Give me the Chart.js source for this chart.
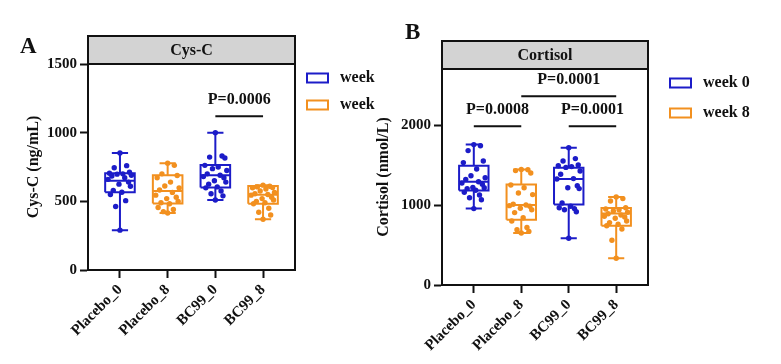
<!DOCTYPE html>
<html>
<head>
<meta charset="utf-8">
<script src="https://cdn.jsdelivr.net/npm/chart.js@4.4.1/dist/chart.umd.min.js"></script>
<style>
  html, body { margin: 0; padding: 0; background: #fff; }
  #wrap { position: relative; width: 781px; height: 364px; overflow: hidden; }
  .panel { position: absolute; top: 0; height: 364px; }
  #panelA { left: 0; width: 390px; }
  #panelB { left: 365px; width: 416px; }
</style>
</head>
<body>
<div id="wrap">
  <div class="panel" id="panelA"><canvas id="chartA"></canvas></div>
  <div class="panel" id="panelB"><canvas id="chartB"></canvas></div>
</div>
<script>
/* ---------- Data ---------- */
const groups = ["Placebo_0", "Placebo_8", "BC99_0", "BC99_8"];
const legendLabelsA = ["week", "week"];
const legendLabelsB = ["week 0", "week 8"];

// Cys-C (ng/mL) box stats per group
const cysMin    = [290, 415, 510, 370];
const cysQ1     = [566, 485, 600, 483];
const cysMedian = [650, 575, 690, 548];
const cysQ3     = [705, 690, 765, 612];
const cysMax    = [852, 778, 1000, 618];
const cysTicks  = [0, 500, 1000, 1500];

const cysPlacebo0 = [852, 760, 745, 712, 705, 700, 698, 690, 685, 672, 660, 640, 625, 610, 580, 566, 550, 505, 462, 290];
const cysPlacebo8 = [778, 762, 700, 688, 672, 640, 612, 598, 582, 565, 545, 530, 520, 500, 490, 482, 455, 440, 425, 415];
const cysBC990    = [1000, 830, 822, 815, 762, 750, 738, 725, 700, 690, 680, 672, 650, 640, 625, 605, 598, 575, 555, 540, 510];
const cysBC998    = [618, 610, 605, 600, 598, 590, 575, 565, 555, 550, 545, 530, 520, 510, 500, 490, 482, 450, 420, 400, 370];

const cysSigFrom  = [2];
const cysSigTo    = [3];
const cysSigY     = [1120];
const cysSigLabel = ["P=0.0006"];

// Cortisol (nmol/L) box stats per group
const cortMin    = [955, 650, 585, 335];
const cortQ1     = [1180, 815, 1005, 740];
const cortMedian = [1290, 1000, 1325, 895];
const cortQ3     = [1490, 1255, 1465, 962];
const cortMax    = [1755, 1445, 1715, 1100];
const cortTicks  = [0, 1000, 2000];

const cortPlacebo0 = [1755, 1740, 1680, 1550, 1530, 1450, 1365, 1340, 1320, 1290, 1275, 1260, 1220, 1215, 1205, 1185, 1160, 1125, 1090, 1065, 955];
const cortPlacebo8 = [1445, 1440, 1430, 1400, 1250, 1215, 1150, 1130, 1010, 1000, 992, 985, 960, 940, 905, 840, 800, 720, 690, 670, 650];
const cortBC990    = [1715, 1580, 1550, 1500, 1490, 1480, 1470, 1425, 1385, 1330, 1325, 1240, 1215, 1205, 1025, 985, 965, 955, 940, 915, 585];
const cortBC998    = [1100, 1080, 1050, 965, 950, 940, 925, 910, 890, 875, 860, 850, 835, 800, 780, 760, 740, 700, 560, 335];

const cortSigFrom  = [0, 2, 1];
const cortSigTo    = [1, 3, 3];
const cortSigY     = [1985, 1985, 2360];
const cortSigLabel = ["P=0.0008", "P=0.0001", "P=0.0001"];

// horizontal spread of the dots inside each group (category units)
const jitter = [0, 0.14, -0.12, 0.2, -0.22, 0.06, -0.06, 0.24, -0.17, 0.1, -0.25, 0.18, -0.02, 0.22, -0.14, 0.04, -0.2, 0.12, -0.09, 0.16, 0.03];

/* ---------- Styles ---------- */
const BLUE = "#1c1cc8";
const ORANGE = "#f2901f";
const groupColors = [BLUE, ORANGE, BLUE, ORANGE];
const INK = "#111";
const SERIF = '"Liberation Serif", "Times New Roman", serif';
const BOX_HALF = 0.31;
const CAP_HALF = 0.17;

Chart.defaults.font.family = SERIF;
Chart.defaults.font.weight = "bold";
Chart.defaults.color = INK;

/* ---------- Builders ---------- */
function boxPath(i, mn, q1, md, q3, mx) {
    const gap = { x: i, y: null };
    return [
        { x: i - BOX_HALF, y: q1 }, { x: i + BOX_HALF, y: q1 },
        { x: i + BOX_HALF, y: q3 }, { x: i - BOX_HALF, y: q3 },
        { x: i - BOX_HALF, y: q1 }, gap,
        { x: i - BOX_HALF, y: md }, { x: i + BOX_HALF, y: md }, gap,
        { x: i, y: q3 }, { x: i, y: mx }, gap,
        { x: i - CAP_HALF, y: mx }, { x: i + CAP_HALF, y: mx }, gap,
        { x: i, y: q1 }, { x: i, y: mn }, gap,
        { x: i - CAP_HALF, y: mn }, { x: i + CAP_HALF, y: mn }
    ];
}

function buildDatasets(stats, points, sig) {
    const ds = [];
    points.forEach((vals, i) => {
        ds.push({
            label: groups[i] + " points",
            data: vals.map((v, k) => ({ x: i + (k === vals.length - 1 ? 0 : jitter[k]), y: v })),
            pointRadius: 2.7,
            pointBackgroundColor: groupColors[i],
            pointBorderWidth: 0,
            showLine: false
        });
    });
    groups.forEach((g, i) => {
        ds.push({
            label: g + " box",
            data: boxPath(i, stats.min[i], stats.q1[i], stats.median[i], stats.q3[i], stats.max[i]),
            showLine: true,
            borderColor: groupColors[i],
            borderWidth: 2,
            pointRadius: 0,
            spanGaps: false,
            tension: 0
        });
    });
    const sigData = [];
    sig.from.forEach((f, k) => {
        sigData.push({ x: f, y: sig.y[k] }, { x: sig.to[k], y: sig.y[k] }, { x: f, y: null });
    });
    ds.push({
        label: "significance",
        data: sigData,
        showLine: true,
        borderColor: INK,
        borderWidth: 2,
        pointRadius: 0,
        spanGaps: false
    });
    return ds;
}

/* ---------- Decoration plugin ---------- */
function panelDecor(p) {
    return {
        id: "panelDecor",
        afterDraw(chart) {
            const { ctx, chartArea: a, scales: { x, y } } = chart;
            ctx.save();
            // header strip
            ctx.fillStyle = "#d3d3d3";
            ctx.fillRect(a.left, a.top - 28, a.right - a.left, 28);
            ctx.lineWidth = 2;
            ctx.strokeStyle = INK;
            ctx.strokeRect(a.left, a.top - 28, a.right - a.left, 28);
            ctx.strokeRect(a.left, a.top, a.right - a.left, a.bottom - a.top);

            ctx.fillStyle = INK;
            ctx.textAlign = "center";
            ctx.textBaseline = "middle";
            ctx.font = "bold 16px " + SERIF;
            ctx.fillText(p.header, (a.left + a.right) / 2, a.top - 13);

            // p-values
            p.sig.label.forEach((t, k) => {
                const cx = (x.getPixelForValue(p.sig.from[k]) + x.getPixelForValue(p.sig.to[k])) / 2;
                ctx.fillText(t, cx, y.getPixelForValue(p.sig.y[k]) - 16);
            });

            // panel letter
            ctx.textAlign = "left";
            ctx.textBaseline = "alphabetic";
            ctx.font = "bold 23px " + SERIF;
            ctx.fillText(p.letter, p.letterX, p.letterY);

            // legend
            ctx.font = "bold 16px " + SERIF;
            ctx.textBaseline = "middle";
            p.legend.forEach((t, k) => {
                const ly = p.legendY[k];
                ctx.strokeStyle = [BLUE, ORANGE][k];
                ctx.lineWidth = 2;
                ctx.strokeRect(p.legendX, ly - 4.5, 21, 9);
                ctx.fillStyle = INK;
                ctx.fillText(t, p.legendX + 33, ly);
            });
            ctx.restore();
        }
    };
}

function makeChart(id, o) {
    return new Chart(document.getElementById(id), {
        type: "scatter",
        data: { datasets: buildDatasets(o.stats, o.points, o.sig) },
        options: {
            responsive: true,
            maintainAspectRatio: false,
            animation: false,
            events: [],
            layout: { padding: { top: o.top, right: o.right, left: 0, bottom: 0 } },
            plugins: { legend: { display: false }, tooltip: { enabled: false } },
            scales: {
                x: {
                    type: "linear",
                    min: -0.67,
                    max: 3.67,
                    afterBuildTicks: s => { s.ticks = groups.map((g, i) => ({ value: i })); },
                    afterFit: s => { s.height = o.xHeight; },
                    ticks: {
                        callback: v => groups[v],
                        maxRotation: 45,
                        minRotation: 45,
                        autoSkip: false,
                        font: { size: 15, weight: "bold" },
                        color: INK
                    },
                    grid: { drawOnChartArea: false, tickLength: 8, tickColor: INK, tickWidth: 2 },
                    border: { display: true, color: INK, width: 2 }
                },
                y: {
                    min: 0,
                    max: o.yMax,
                    afterBuildTicks: s => { s.ticks = o.ticks.map(v => ({ value: v })); },
                    afterFit: s => { s.width = o.yWidth; },
                    ticks: {
                        callback: v => String(v),
                        font: { size: 15, weight: "bold" },
                        color: INK,
                        padding: 3
                    },
                    grid: { drawOnChartArea: false, tickLength: 8, tickColor: INK, tickWidth: 2 },
                    border: { display: true, color: INK, width: 2 },
                    title: {
                        display: true,
                        text: o.yTitle,
                        font: { size: 16, weight: "bold" },
                        color: INK,
                        padding: { top: o.titlePad, bottom: 0 }
                    }
                }
            }
        },
        plugins: [panelDecor(o.decor)]
    });
}

/* ---------- Init ---------- */
makeChart("chartA", {
    stats: { min: cysMin, q1: cysQ1, median: cysMedian, q3: cysQ3, max: cysMax },
    points: [cysPlacebo0, cysPlacebo8, cysBC990, cysBC998],
    sig: { from: cysSigFrom, to: cysSigTo, y: cysSigY, label: cysSigLabel },
    ticks: cysTicks,
    yMax: 1500,
    yTitle: "Cys-C (ng/mL)",
    top: 64, right: 95, yWidth: 88, xHeight: 94, titlePad: 24,
    decor: {
        header: "Cys-C", letter: "A", letterX: 20, letterY: 53,
        sig: { from: cysSigFrom, to: cysSigTo, y: cysSigY, label: cysSigLabel },
        legend: legendLabelsA, legendX: 307, legendY: [78, 105]
    }
});

makeChart("chartB", {
    stats: { min: cortMin, q1: cortQ1, median: cortMedian, q3: cortQ3, max: cortMax },
    points: [cortPlacebo0, cortPlacebo8, cortBC990, cortBC998],
    sig: { from: cortSigFrom, to: cortSigTo, y: cortSigY, label: cortSigLabel },
    ticks: cortTicks,
    yMax: 2700,
    yTitle: "Cortisol (nmol/L)",
    top: 69, right: 133, yWidth: 77, xHeight: 79, titlePad: 9,
    decor: {
        header: "Cortisol", letter: "B", letterX: 40, letterY: 39,
        sig: { from: cortSigFrom, to: cortSigTo, y: cortSigY, label: cortSigLabel },
        legend: legendLabelsB, legendX: 305, legendY: [83, 113]
    }
});
</script>
</body>
</html>
